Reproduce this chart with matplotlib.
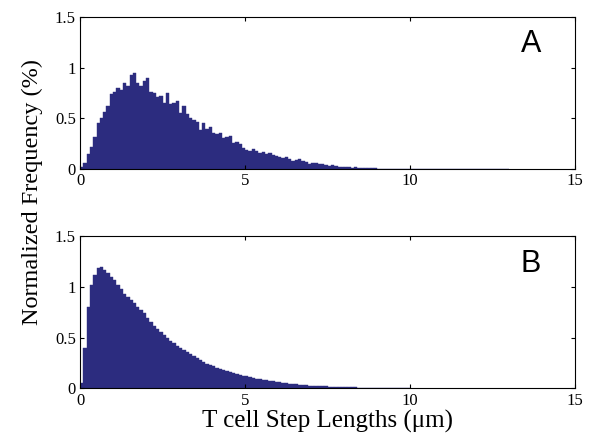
import numpy as np
import matplotlib.pyplot as plt

# histogram heights (% per bin), bins of 0.1 um starting at 0
bin_width = 0.1

freq_a = [
    0.02, 0.06, 0.15, 0.22, 0.32, 0.45, 0.50, 0.56, 0.62, 0.74,
    0.76, 0.80, 0.78, 0.85, 0.82, 0.93, 0.95, 0.85, 0.82, 0.87,
    0.90, 0.76, 0.75, 0.71, 0.72, 0.65, 0.75, 0.64, 0.65, 0.67,
    0.55, 0.62, 0.54, 0.50, 0.48, 0.46, 0.39, 0.45, 0.40, 0.42,
    0.36, 0.35, 0.36, 0.31, 0.32, 0.33, 0.26, 0.27, 0.25, 0.21,
    0.19, 0.18, 0.20, 0.18, 0.16, 0.17, 0.15, 0.16, 0.14, 0.13,
    0.12, 0.11, 0.12, 0.10, 0.08, 0.09, 0.10, 0.08, 0.07, 0.05,
    0.06, 0.06, 0.05, 0.05, 0.04, 0.035, 0.04, 0.03, 0.025, 0.02,
    0.025, 0.02, 0.015, 0.02, 0.012, 0.01, 0.012, 0.008, 0.01, 0.008,
    0.006, 0.005, 0.004, 0.006, 0.003, 0.004, 0.003, 0.002, 0.004, 0.002,
    0.003, 0.002, 0.0, 0.003, 0.002, 0.0, 0.002, 0.0, 0.002, 0.0,
    0.002, 0.0, 0.0, 0.002, 0.0, 0.002, 0.0, 0.0, 0.002, 0.0,
    0.0, 0.002, 0.0, 0.0, 0.0, 0.002, 0.0, 0.0, 0.0, 0.002,
]

freq_b = [
    0.05, 0.40, 0.80, 1.02, 1.12, 1.19, 1.20, 1.17, 1.14, 1.10,
    1.07, 1.02, 0.98, 0.93, 0.90, 0.87, 0.84, 0.80, 0.77, 0.74,
    0.70, 0.66, 0.62, 0.59, 0.56, 0.53, 0.50, 0.47, 0.45, 0.42,
    0.40, 0.38, 0.36, 0.34, 0.32, 0.30, 0.28, 0.26, 0.245, 0.23,
    0.22, 0.205, 0.19, 0.18, 0.17, 0.16, 0.15, 0.14, 0.13, 0.125,
    0.12, 0.11, 0.10, 0.095, 0.09, 0.085, 0.08, 0.075, 0.07, 0.065,
    0.06, 0.055, 0.05, 0.047, 0.043, 0.04, 0.037, 0.034, 0.031, 0.029,
    0.027, 0.025, 0.023, 0.021, 0.02, 0.018, 0.017, 0.016, 0.015, 0.014,
    0.013, 0.012, 0.011, 0.01, 0.009, 0.009, 0.008, 0.007, 0.007, 0.006,
    0.006, 0.005, 0.005, 0.004, 0.004, 0.003, 0.003, 0.002, 0.002, 0.002,
]

panel_labels = ["A", "B"]
xticks = [0, 5, 10, 15]
yticks = [0, 0.5, 1, 1.5]

BAR_COLOR = "#2c2c7f"

plt.rcParams['font.family'] = ['Liberation Serif', 'DejaVu Serif']

fig = plt.figure(figsize=(5.93, 4.37), dpi=100)
ax_a = fig.add_axes([0.135, 0.613, 0.835, 0.348])
ax_b = fig.add_axes([0.135, 0.111, 0.835, 0.348])

for ax, freq, lab in zip([ax_a, ax_b], [freq_a, freq_b], panel_labels):
    left = np.arange(len(freq)) * bin_width
    ax.bar(left, freq, width=bin_width, align='edge', color=BAR_COLOR,
           edgecolor=BAR_COLOR, linewidth=0.3)
    ax.set_xlim(0, 15)
    ax.set_ylim(0, 1.5)
    ax.set_xticks(xticks)
    ax.set_yticks(yticks)
    ax.set_xticklabels([str(t) for t in xticks])
    ax.set_yticklabels(["0", "0.5", "1", "1.5"])
    ax.tick_params(direction='in', top=True, right=True, length=3,
                   labelsize=12, pad=3)
    for sp in ax.spines.values():
        sp.set_linewidth(0.8)
    ax.text(0.91, 0.82, lab, transform=ax.transAxes, ha='center',
            va='center', fontsize=22, family='Liberation Sans')

ax_b.set_xlabel("T cell Step Lengths (\u03bcm)", fontsize=18, labelpad=1)
fig.text(0.054, 0.56, "Normalized Frequency (%)", rotation=90,
         ha='center', va='center', fontsize=17.5)

fig.savefig("out.png", dpi=100)
